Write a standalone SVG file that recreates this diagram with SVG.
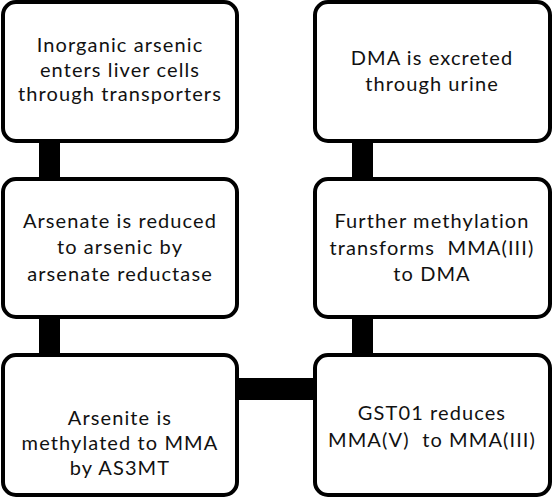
<svg xmlns="http://www.w3.org/2000/svg" width="553" height="499" viewBox="0 0 553 499">
<style>
.box{fill:#fff;stroke:#000;stroke-width:4}
.bar{fill:#000}
text{font-family:Lato,"Liberation Sans",sans-serif;font-size:20px;letter-spacing:1.1px;fill:#111;text-anchor:middle;white-space:pre}
</style>
<rect width="553" height="499" fill="#fff"/>
<g id="connectors">
<rect class="bar" x="39" y="141" width="21" height="38"/>
<rect class="bar" x="39" y="317" width="21" height="38"/>
<rect class="bar" x="352" y="141" width="21" height="38"/>
<rect class="bar" x="352" y="317" width="21" height="38"/>
<rect class="bar" x="237" y="378" width="78" height="22"/>
</g>
<g id="n1">
<rect class="box" x="3" y="2" width="234" height="139" rx="13"/>
<text x="120" y="52">Inorganic arsenic</text>
<text x="120" y="77">enters liver cells</text>
<text x="120" y="101">through transporters</text>
</g>
<g id="n2">
<rect class="box" x="3" y="179" width="234" height="138" rx="13"/>
<text x="120" y="228">Arsenate is reduced</text>
<text x="120" y="254">to arsenic by</text>
<text x="120" y="281">arsenate reductase</text>
</g>
<g id="n3">
<rect class="box" x="3" y="355" width="234" height="140" rx="13"/>
<text x="120" y="425">Arsenite is</text>
<text x="120" y="450">methylated to MMA</text>
<text x="120" y="475">by AS3MT</text>
</g>
<g id="n4">
<rect class="box" x="315" y="2" width="235" height="139" rx="13"/>
<text x="432" y="65">DMA is excreted</text>
<text x="432" y="91">through urine</text>
</g>
<g id="n5">
<rect class="box" x="315" y="179" width="235" height="138" rx="13"/>
<text x="432" y="228">Further methylation</text>
<text x="432" y="255">transforms  MMA(III)</text>
<text x="432" y="281">to DMA</text>
</g>
<g id="n6">
<rect class="box" x="315" y="355" width="235" height="140" rx="13"/>
<text x="432" y="420">GST01 reduces</text>
<text x="432" y="447">MMA(V)  to MMA(III)</text>
</g>
</svg>
